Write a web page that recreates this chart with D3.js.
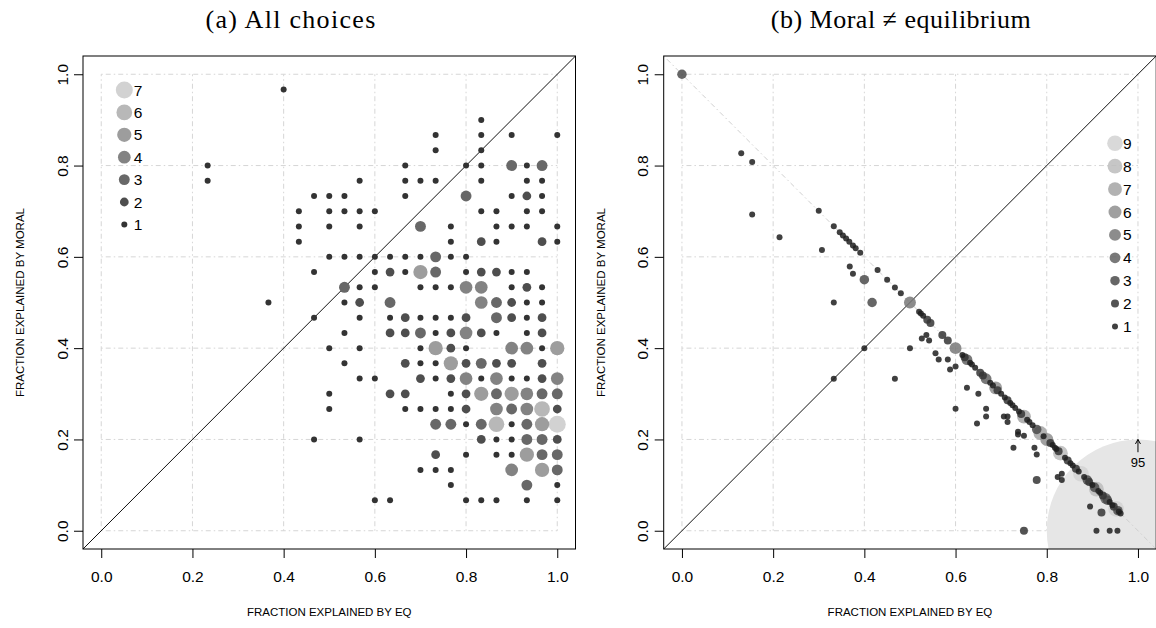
<!DOCTYPE html>
<html>
<head>
<meta charset="utf-8">
<script src="https://cdn.jsdelivr.net/npm/d3@7/dist/d3.min.js"></script>
<style>
  body { margin: 0; background: #fff; }
</style>
</head>
<body>
<script>
// ---- data ----
// panel (a): answers out of 30 choices, one entry per row of the grid
var aMoral30 = [29, 27, 26, 25, 24, 23, 22, 21, 20, 19, 18, 17, 16, 15, 14, 13, 12, 11, 10, 9, 8, 7, 6, 5, 4, 3, 2];
var aEq30 = [
  [12],
  [25],
  [22, 25, 27, 30],
  [22, 25],
  [7, 20, 24, 25, 27, 28, 29],
  [7, 17, 20, 21, 22, 25, 28, 29],
  [14, 15, 16, 20, 24, 27, 28, 29],
  [13, 15, 16, 17, 18, 25, 26, 28, 29],
  [13, 15, 17, 21, 23, 26, 27, 28, 30],
  [13, 23, 25, 26, 29, 30],
  [15, 16, 17, 18, 19, 20, 21, 22, 23, 24],
  [14, 18, 19, 20, 21, 22, 24, 25, 26, 27, 28],
  [16, 17, 18, 21, 22, 23, 24, 25, 27, 28, 29],
  [11, 16, 17, 19, 25, 26, 27, 28, 29],
  [14, 17, 19, 20, 21, 22, 23, 24, 26, 27, 28, 29],
  [16, 19, 20, 21, 22, 23, 24, 25, 26, 28, 29],
  [15, 17, 21, 22, 23, 24, 27, 28, 29, 30],
  [16, 20, 21, 22, 23, 24, 25, 26, 27, 29],
  [17, 18, 21, 22, 23, 24, 25, 26, 27, 28, 29, 30],
  [15, 19, 20, 23, 24, 25, 26, 27, 28, 29, 30],
  [15, 20, 21, 22, 23, 24, 26, 27, 28, 29, 30],
  [22, 23, 24, 25, 26, 27, 28, 29, 30],
  [14, 17, 25, 26, 27, 28, 29, 30],
  [22, 24, 26, 27, 28, 29, 30],
  [21, 22, 23, 27, 29, 30],
  [23, 28, 30],
  [18, 19, 24, 25, 26, 28, 30]
];
var aCount = [
  [1],
  [1],
  [1, 1, 1, 1],
  [1, 1],
  [1, 1, 1, 1, 3, 1, 3],
  [1, 1, 1, 1, 1, 1, 1, 1],
  [1, 1, 1, 1, 3, 1, 2, 1],
  [1, 1, 1, 1, 1, 1, 1, 1, 1],
  [1, 1, 1, 3, 1, 1, 1, 1, 1],
  [1, 1, 2, 1, 2, 1],
  [1, 1, 1, 1, 1, 1, 1, 3, 1, 1],
  [1, 1, 2, 1, 5, 3, 1, 2, 2, 1, 1],
  [3, 1, 1, 1, 1, 1, 4, 4, 1, 2, 1],
  [1, 1, 2, 3, 4, 3, 2, 1, 1],
  [1, 1, 1, 2, 1, 1, 1, 2, 3, 2, 1, 2],
  [1, 2, 2, 3, 1, 2, 4, 2, 1, 1, 2],
  [1, 1, 1, 5, 2, 1, 4, 4, 1, 5],
  [1, 2, 1, 1, 5, 2, 3, 2, 2, 2],
  [1, 1, 2, 1, 2, 4, 1, 4, 1, 1, 2, 4],
  [1, 2, 2, 1, 2, 5, 3, 5, 4, 3, 3],
  [1, 1, 1, 1, 1, 2, 4, 3, 4, 6, 2],
  [3, 3, 1, 3, 6, 1, 3, 5, 7],
  [1, 1, 2, 1, 1, 3, 3, 2],
  [2, 1, 1, 1, 5, 3, 3],
  [1, 1, 1, 4, 5, 3],
  [1, 3, 1],
  [1, 1, 1, 1, 1, 1, 1]
];

// panel (b): moral != equilibrium
var bEq = [0.000, 0.130, 0.154, 0.154, 0.214, 0.300, 0.307, 0.333, 0.333, 0.333,
  0.346, 0.353, 0.360, 0.367, 0.375, 0.381, 0.391, 0.368, 0.375, 0.400,
  0.417, 0.429, 0.450, 0.467, 0.480, 0.500, 0.400, 0.467, 0.500, 0.520,
  0.524, 0.529, 0.538, 0.545, 0.526, 0.536, 0.542, 0.556, 0.563, 0.571,
  0.583, 0.583, 0.588, 0.600, 0.600, 0.600, 0.615, 0.625, 0.632, 0.643,
  0.654, 0.667, 0.682, 0.688, 0.692, 0.700, 0.708, 0.720, 0.731, 0.739,
  0.750, 0.762, 0.769, 0.786, 0.793, 0.800, 0.813, 0.821, 0.830, 0.840,
  0.846, 0.857, 0.875, 0.882, 0.889, 0.900, 0.909, 0.917, 0.929, 0.938,
  0.944, 0.952, 0.958, 0.962, 0.625, 0.650, 0.667, 0.667, 0.647, 0.706,
  0.714, 0.714, 0.727, 0.737, 0.737, 0.750, 0.773, 0.778, 0.778, 0.750,
  0.824, 0.833, 0.833, 0.895, 0.920, 0.909, 0.938, 0.955,
  0.620, 0.636, 0.660, 0.676, 0.714, 0.725, 0.744, 0.757, 0.778, 0.808,
  0.818, 0.826, 0.852, 0.864, 0.870, 0.893, 0.905, 0.913, 0.923, 0.933,
  0.947, 0.956];
var bMoral = [1.000, 0.827, 0.808, 0.693, 0.643, 0.701, 0.615, 0.667, 0.500, 0.333,
  0.654, 0.647, 0.640, 0.633, 0.625, 0.619, 0.609, 0.579, 0.563, 0.550,
  0.500, 0.571, 0.550, 0.533, 0.520, 0.500, 0.400, 0.333, 0.400, 0.480,
  0.476, 0.471, 0.462, 0.455, 0.421, 0.429, 0.417, 0.389, 0.375, 0.429,
  0.417, 0.375, 0.353, 0.360, 0.400, 0.267, 0.385, 0.375, 0.368, 0.357,
  0.346, 0.333, 0.318, 0.313, 0.308, 0.300, 0.292, 0.280, 0.269, 0.261,
  0.250, 0.238, 0.231, 0.214, 0.207, 0.200, 0.188, 0.179, 0.170, 0.160,
  0.154, 0.143, 0.125, 0.118, 0.111, 0.100, 0.091, 0.083, 0.071, 0.063,
  0.056, 0.048, 0.042, 0.038, 0.313, 0.300, 0.267, 0.250, 0.235, 0.250,
  0.238, 0.250, 0.182, 0.211, 0.217, 0.208, 0.182, 0.167, 0.111, 0.000,
  0.118, 0.125, 0.111, 0.053, 0.040, 0.000, 0.000, 0.000,
  0.380, 0.364, 0.340, 0.324, 0.286, 0.275, 0.256, 0.243, 0.222, 0.192,
  0.182, 0.174, 0.148, 0.136, 0.130, 0.107, 0.095, 0.087, 0.077, 0.067,
  0.053, 0.044];
var bCount = [3, 1, 1, 1, 1, 1, 1, 1, 1, 1,
  1, 1, 1, 1, 1, 1, 1, 1, 1, 3,
  3, 1, 1, 1, 1, 5, 1, 1, 1, 1,
  1, 1, 2, 2, 1, 1, 1, 1, 1, 2,
  2, 1, 1, 1, 5, 1, 1, 4, 1, 1,
  2, 4, 1, 6, 2, 1, 1, 1, 1, 1,
  7, 1, 1, 7, 1, 6, 1, 1, 8, 1,
  2, 1, 9, 1, 3, 1, 8, 1, 4, 1,
  1, 9, 1, 1, 1, 1, 1, 1, 1, 1,
  1, 1, 1, 1, 1, 1, 1, 1, 2, 2,
  1, 1, 1, 1, 2, 1, 1, 1,
  2, 1, 2, 1, 2, 1, 2, 1, 3, 2,
  1, 2, 1, 2, 1, 2, 3, 1, 2, 3,
  2, 3];
// the one very large cell of panel (b)
var bBig = { eq: 1.0, moral: 0.0, n: 95 };

var ticks = [0, 0.2, 0.4, 0.6, 0.8, 1.0];
var legendA = [7, 6, 5, 4, 3, 2, 1];
var legendB = [9, 8, 7, 6, 5, 4, 3, 2, 1];

// ---- layout ----
var W = 1156, H = 628;
var boxTop = 56, boxBottom = 549, boxW = 492.5;
var sans = "'Liberation Sans', Arial, Helvetica, sans-serif";
var serif = "'Liberation Serif', 'Times New Roman', serif";

var svg = d3.select("body")
  .append("svg")
  .attr("width", W)
  .attr("height", H)
  .style("background-color", "white")
  .style("font-family", sans);

var pointsA = [];
aMoral30.forEach(function(m, i) {
  aEq30[i].forEach(function(e, j) {
    pointsA.push({ eq: e / 30, moral: m / 30, n: aCount[i][j] });
  });
});
var pointsB = bEq.map(function(e, i) {
  return { eq: e, moral: bMoral[i], n: bCount[i] };
});

var drawPanel = function(o) {
  var x = d3.scaleLinear().domain([-0.04, 1.04]).range([o.left, o.left + boxW]);
  var y = d3.scaleLinear().domain([-0.04, 1.04]).range([boxBottom, boxTop]);
  var r = d3.scaleSqrt().domain([1, o.maxN]).range([o.minR, o.maxR]);
  var col = d3.scaleLinear().domain([1, o.maxN]).range([o.dark, "#d2d2d2"]);
  var g = svg.append("g");

  var clipId = "clip" + o.id;
  g.append("clipPath").attr("id", clipId)
    .append("rect")
    .attr("x", x(-0.04)).attr("y", y(1.04))
    .attr("width", x(1.04) - x(-0.04)).attr("height", y(-0.04) - y(1.04));

  // grid
  var grid = g.append("g")
    .attr("stroke", "#d6d6d6")
    .attr("stroke-width", 1)
    .attr("stroke-dasharray", "1.5,3,5,3");
  grid.selectAll(".gv").data(ticks).enter().append("line")
    .attr("x1", function(d) { return x(d); }).attr("x2", function(d) { return x(d); })
    .attr("y1", y(0)).attr("y2", y(1));
  grid.selectAll(".gh").data(ticks).enter().append("line")
    .attr("y1", function(d) { return y(d); }).attr("y2", function(d) { return y(d); })
    .attr("x1", x(0)).attr("x2", x(1));

  var inner = g.append("g").attr("clip-path", "url(#" + clipId + ")");

  if (o.big) {
    inner.append("circle")
      .attr("cx", x(o.big.eq)).attr("cy", y(o.big.moral))
      .attr("r", x(1) - x(0.8))
      .attr("fill", "#e6e6e6");
  }
  if (o.anti) {
    inner.append("line")
      .attr("x1", x(-0.04)).attr("y1", y(1.04))
      .attr("x2", x(1.04)).attr("y2", y(-0.04))
      .attr("stroke", "#cfcfcf").attr("stroke-dasharray", "1.5,3,5,3");
  }
  // 45 degree line
  inner.append("line")
    .attr("x1", x(-0.04)).attr("y1", y(-0.04))
    .attr("x2", x(1.04)).attr("y2", y(1.04))
    .attr("stroke", "#111").attr("stroke-width", 1);

  // points, biggest first so small ones stay on top
  var pts = o.points.slice().sort(function(a, b) { return b.n - a.n; });
  inner.selectAll(".pt").data(pts).enter().append("circle")
    .attr("cx", function(d) { return x(d.eq); })
    .attr("cy", function(d) { return y(d.moral); })
    .attr("r", function(d) { return r(d.n); })
    .attr("fill", function(d) { return col(d.n); })
    .attr("fill-opacity", o.alpha);

  // box
  g.append("rect")
    .attr("x", x(-0.04)).attr("y", y(1.04))
    .attr("width", x(1.04) - x(-0.04)).attr("height", y(-0.04) - y(1.04))
    .attr("fill", "none").attr("stroke", "#000").attr("stroke-width", 1);

  // axes
  var ax = g.append("g")
    .attr("transform", "translate(0," + boxBottom + ")")
    .call(d3.axisBottom(x).tickValues(ticks).tickFormat(d3.format(".1f"))
      .tickSize(9).tickSizeOuter(0).tickPadding(13));
  ax.select(".domain").remove();
  var ay = g.append("g")
    .attr("transform", "translate(" + o.left + ",0)")
    .call(d3.axisLeft(y).tickValues(ticks).tickFormat(d3.format(".1f"))
      .tickSize(9).tickSizeOuter(0));
  ay.select(".domain").remove();
  ay.selectAll("text")
    .attr("x", 0).attr("y", -15.5).attr("dy", null)
    .attr("text-anchor", "middle")
    .attr("transform", "rotate(-90)");
  g.selectAll(".tick line").attr("stroke", "#000");
  g.selectAll(".tick text")
    .attr("fill", "#000")
    .style("font-family", sans)
    .style("font-size", "15.5px");

  // axis titles
  g.append("text")
    .attr("x", (x(-0.04) + x(1.04)) / 2).attr("y", 616)
    .attr("text-anchor", "middle")
    .style("font-size", "11.5px")
    .text("FRACTION EXPLAINED BY EQ");
  g.append("text")
    .attr("transform", "translate(" + (o.left - 59) + "," + ((boxTop + boxBottom) / 2) + ") rotate(-90)")
    .attr("text-anchor", "middle")
    .style("font-size", "11.5px")
    .text("FRACTION EXPLAINED BY MORAL");

  // panel caption
  g.append("text")
    .attr("x", o.titleX).attr("y", 28)
    .attr("text-anchor", "middle")
    .style("font-family", serif)
    .style("font-size", "26px")
    .style("letter-spacing", o.titleSpacing)
    .text(o.title);

  // legend
  var lg = g.append("g");
  var items = lg.selectAll(".lg").data(o.legend).enter().append("g")
    .attr("transform", function(d, i) {
      return "translate(" + o.legX + "," + (o.legY + i * o.legStep) + ")";
    });
  items.append("circle")
    .attr("r", function(d) { return r(d); })
    .attr("fill", function(d) { return col(d); })
    .attr("fill-opacity", o.alpha);
  items.append("text")
    .attr("x", o.legTextDx).attr("dy", "0.36em")
    .style("font-size", "15.5px")
    .text(function(d) { return d; });

  // note for the big cell
  if (o.big) {
    var ax1 = x(o.big.eq);
    g.append("path")
      .attr("d", "M" + ax1 + "," + y(0.172) + "V" + y(0.2) +
        "M" + (ax1 - 2.5) + "," + (y(0.2) + 4.5) + "L" + ax1 + "," + y(0.2) +
        "L" + (ax1 + 2.5) + "," + (y(0.2) + 4.5))
      .attr("fill", "none").attr("stroke", "#000").attr("stroke-width", 1);
    g.append("text")
      .attr("x", ax1).attr("y", y(0.15)).attr("dy", "0.36em")
      .attr("text-anchor", "middle")
      .style("font-size", "13px")
      .text(o.big.n);
  }
};

drawPanel({
  id: "a", left: 83, points: pointsA, maxN: 7, minR: 3, maxR: 8.5, alpha: 1, dark: "#333333",
  title: "(a) All choices", titleX: 291, titleSpacing: "1.3px",
  legend: legendA, legX: 124.3, legY: 90, legStep: 22.4, legTextDx: 9.5
});

drawPanel({
  id: "b", left: 663.7, points: pointsB, maxN: 9, minR: 3, maxR: 7.8, alpha: 0.85, dark: "#1e1e1e",
  title: "(b) Moral \u2260 equilibrium", titleX: 901, titleSpacing: "0.5px",
  legend: legendB, legX: 1115, legY: 143.3, legStep: 22.9, legTextDx: 8,
  anti: true, big: bBig
});
</script>
</body>
</html>
